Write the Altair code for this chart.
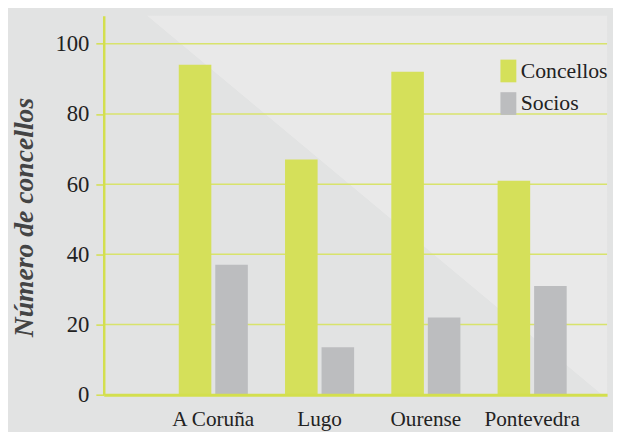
import altair as alt
import pandas as pd

provincias = ["A Coruña", "Lugo", "Ourense", "Pontevedra"]
series = ["Concellos", "Socios"]
concellos = [94, 67, 92, 61]
socios = [37, 13.5, 22, 31]
y_ticks = [0, 20, 40, 60, 80, 100]
y_title = "Número de concellos"

rows = []
for p, c, s in zip(provincias, concellos, socios):
    rows.append({"provincia": p, "serie": series[0], "valor": c})
    rows.append({"provincia": p, "serie": series[1], "valor": s})
df = pd.DataFrame(rows)
grid_df = pd.DataFrame({"valor": y_ticks[1:]})

W, H = 510, 384
dark = "#e2e3e3"
light = "#e9e9e9"
green = "#d5e05a"
grey = "#bcbdbf"
line_green = "#d3df4e"
grid_green = "#d8e36c"
serif = "Liberation Serif"

y_enc = alt.Y(
    "valor:Q",
    scale=alt.Scale(domain=[0, 108], nice=False),
    axis=alt.Axis(
        values=y_ticks, title=y_title, grid=False, zindex=1,
        labelFont=serif, labelFontSize=23, labelColor="#222222", labelPadding=7,
        tickSize=8, tickColor=line_green, tickWidth=1.5,
        domainColor=line_green, domainWidth=2.5,
        titleFont=serif, titleFontSize=28, titleFontStyle="italic", titleFontWeight="bold",
        titleColor="#444444", titleAngle=-90, titleX=-80, titleY=204,
        titleAlign="center", titleBaseline="middle",
    ),
)

bg = alt.Chart(pd.DataFrame({"k": [0]})).mark_rect(
    fill=alt.LinearGradient(
        gradient="linear", x1=0, y1=1, x2=1, y2=0.0965,
        stops=[
            alt.GradientStop(color=dark, offset=0),
            alt.GradientStop(color=dark, offset=0.5445),
            alt.GradientStop(color=light, offset=0.5455),
            alt.GradientStop(color=light, offset=1),
        ],
    )
).encode(x=alt.value(0), x2=alt.value(W), y=alt.value(0), y2=alt.value(H))

grid = alt.Chart(grid_df).mark_rule(color=grid_green, strokeWidth=1.5).encode(y=y_enc)

bars = alt.Chart(df).mark_bar().encode(
    x=alt.X(
        "provincia:N", sort=provincias,
        scale=alt.Scale(paddingInner=0.35, paddingOuter=0.543, align=0.65),
        axis=alt.Axis(
            title=None, labelAngle=0, ticks=False, zindex=1,
            labelFont=serif, labelFontSize=21.5, labelColor="#222222", labelPadding=14,
            domainColor=line_green, domainWidth=3,
        ),
    ),
    xOffset=alt.XOffset("serie:N", sort=series,
                        scale=alt.Scale(paddingInner=0.108, paddingOuter=0)),
    y=y_enc,
    color=alt.Color(
        "serie:N", sort=series,
        scale=alt.Scale(domain=series, range=[green, grey]),
        legend=alt.Legend(
            title=None, orient="none", legendX=398.5, legendY=44.5, padding=0,
            symbolType="M-0.7,-1H0.7V1H-0.7Z", symbolSize=529,
            symbolStrokeWidth=0, labelFont=serif, labelFontSize=22,
            labelColor="#222222", labelOffset=1, rowPadding=10,
        ),
    ),
)

chart = alt.layer(bg, grid, bars).properties(
    width=W, height=H,
    padding={"left": 97, "top": 5, "right": 6, "bottom": 35},
    autosize=alt.AutoSizeParams(type="none"),
    background=dark,
).configure_view(stroke=None)

chart.save("out.html", embed_options={"renderer": "svg", "actions": False})
